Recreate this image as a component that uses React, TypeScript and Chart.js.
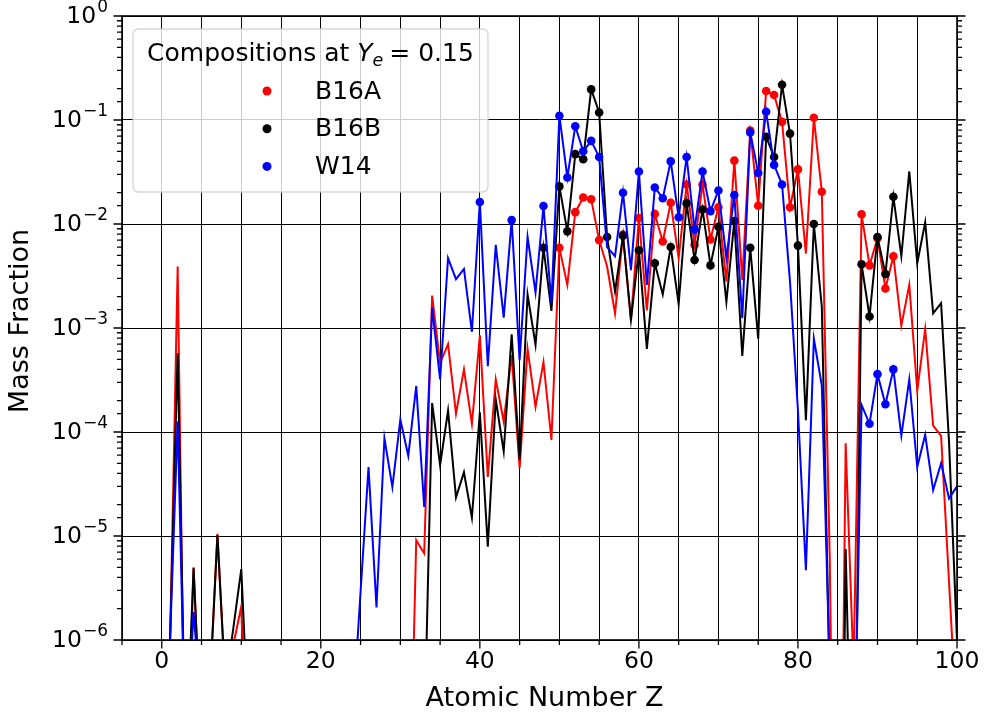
import React, { useEffect, useRef } from 'react';
import { Chart, registerables } from 'chart.js';

Chart.register(...registerables);

// Atomic numbers Z = 0 .. 100
const atomicNumbers: number[] = Array.from({ length: 101 }, (_, i) => i);

// Mass fractions (0 = absent)
const b16a: number[] = [
  1e-9, 6e-7, 3.9e-3, 1.3e-8, 5.0e-6, 1e-7, 3e-7, 1.05e-5, 3.5e-7, 9e-7,
  2.1e-6, 1e-8, 0, 0, 0, 0, 0, 0, 0, 0,
  0, 0, 0, 0, 0, 0, 0, 0, 0, 0,
  0, 6e-9, 9.1e-6, 6.8e-6, 2.05e-3, 4.6e-4, 7.0e-4, 1.5e-4, 4.0e-4, 1.2e-4,
  8.5e-4, 3.7e-5, 3.2e-4, 1.26e-4, 5.5e-4, 4.5e-5, 6.3e-4, 1.75e-4, 4.7e-4, 8.4e-5,
  5.9e-3, 2.6e-3, 1.3e-2, 1.8e-2, 1.73e-2, 7.0e-3, 3.9e-3, 1.38e-3, 7.9e-3, 1.2e-3,
  1.14e-2, 1.48e-3, 1.25e-2, 6.8e-3, 1.6e-2, 4.7e-3, 2.4e-2, 6.3e-3, 2.4e-2, 7.1e-3,
  1.45e-2, 2.8e-3, 4.07e-2, 2.9e-3, 7.9e-2, 1.5e-2, 0.19, 0.174, 9.6e-2, 1.45e-2,
  3.35e-2, 5.2e-3, 0.105, 2.04e-2, 6e-6, 1e-11, 7.8e-5, 5e-7, 1.24e-2, 4.0e-3,
  7.3e-3, 2.4e-3, 4.9e-3, 1.05e-3, 2.6e-3, 2.5e-4, 9.8e-4, 1.15e-4, 9.2e-5, 3.6e-6,
  1.4e-7,
];

const b16b: number[] = [
  1e-9, 8e-7, 5.7e-4, 6e-8, 4.9e-6, 1e-7, 2.9e-7, 1.02e-5, 3.7e-7, 1.3e-6,
  4.8e-6, 1e-7, 1e-9, 0, 0, 0, 0, 0, 0, 0,
  0, 0, 0, 0, 0, 0, 0, 0, 0, 0,
  0, 0, 0, 1e-7, 1.9e-4, 4.8e-5, 1.6e-4, 2.35e-5, 4.1e-5, 1.5e-5,
  1.55e-4, 7.9e-6, 2.05e-4, 6.5e-5, 8.7e-4, 5.4e-5, 2.1e-3, 6.9e-4, 5.9e-3, 1.46e-3,
  2.3e-2, 8.5e-3, 4.7e-2, 4.2e-2, 0.197, 0.118, 7.5e-3, 2.24e-3, 7.7e-3, 1.2e-3,
  5.6e-3, 6.3e-4, 4.2e-3, 2.1e-3, 6.0e-3, 1.7e-3, 1.58e-2, 4.5e-3, 1.38e-2, 4.0e-3,
  9.4e-3, 1.78e-3, 1.07e-2, 5.4e-4, 5.9e-3, 7.9e-4, 6.9e-2, 4.4e-2, 0.218, 7.4e-2,
  6.2e-3, 1.3e-4, 1.0e-2, 1.6e-3, 3.5e-7, 1e-12, 7.5e-6, 4e-9, 4.1e-3, 1.29e-3,
  7.5e-3, 3.3e-3, 1.83e-2, 4.9e-3, 3.2e-2, 4.2e-3, 1.04e-2, 1.38e-3, 1.73e-3, 8e-5,
  1e-6,
];

const w14: number[] = [
  1e-9, 8e-7, 1.26e-4, 8e-8, 1.86e-6, 2e-7, 1e-9, 0, 0, 0,
  0, 0, 0, 0, 0, 0, 0, 0, 0, 0,
  0, 0, 0, 0, 1.8e-7, 2.9e-6, 4.6e-5, 2.06e-6, 8.7e-5, 2.95e-5,
  1.32e-4, 5.9e-5, 2.77e-4, 1.9e-5, 1.57e-3, 3.2e-4, 4.7e-3, 2.95e-3, 3.7e-3, 9.2e-4,
  1.63e-2, 4.3e-4, 6.3e-3, 1.26e-3, 1.09e-2, 4.9e-4, 7.5e-3, 2.2e-3, 1.49e-2, 1.75e-3,
  0.11, 2.8e-2, 8.7e-2, 5.0e-2, 6.3e-2, 4.4e-2, 6.0e-3, 4.9e-3, 2.0e-2, 3.6e-3,
  3.2e-2, 2.6e-3, 2.24e-2, 1.77e-2, 4.0e-2, 1.16e-2, 4.4e-2, 8.9e-3, 3.2e-2, 1.33e-2,
  2.1e-2, 4.7e-3, 1.9e-2, 1.24e-3, 7.6e-2, 3.1e-2, 0.12, 3.7e-2, 2.4e-2, 2.8e-3,
  1.6e-4, 4.7e-6, 7.9e-4, 2.8e-4, 5e-7, 0, 0, 3e-8, 1.82e-4, 1.2e-4,
  3.6e-4, 1.85e-4, 4.0e-4, 9.2e-5, 3.2e-4, 4.6e-5, 9.4e-5, 2.76e-5, 5.0e-5, 2.3e-5,
  3.0e-5,
];

// Elements drawn with a dot marker, per series
const b16aMarkedZ: number[] = [50, 52, 53, 54, 55, 58, 60, 62, 63, 64, 66, 67, 68, 69, 70, 72, 74, 75, 76, 77, 78, 79, 80, 82, 83, 88, 89, 90, 91, 92];
const b16bMarkedZ: number[] = [48, 50, 51, 52, 53, 54, 55, 56, 58, 60, 62, 64, 66, 67, 68, 69, 70, 72, 74, 76, 77, 78, 79, 80, 82, 88, 89, 90, 91, 92];
const w14MarkedZ: number[] = [40, 44, 48, 50, 51, 52, 53, 54, 55, 58, 60, 62, 63, 64, 65, 66, 67, 68, 69, 70, 72, 74, 75, 76, 77, 78, 89, 90, 91, 92];

const seriesNames: string[] = ['B16A', 'B16B', 'W14'];
const seriesColors: string[] = ['#ff0000', '#000000', '#0000ff'];

const xTickLabels: number[] = [0, 20, 40, 60, 80, 100];
const yDecades: number[] = [1e-6, 1e-5, 1e-4, 1e-3, 1e-2, 1e-1, 1];
const yExponents: string[] = ['\u22126', '\u22125', '\u22124', '\u22123', '\u22122', '\u22121', '0'];

const xTitle = 'Atomic Number Z';
const yTitle = 'Mass Fraction';
const legendPrefix = 'Compositions at ';
const legendSymbol = 'Y';
const legendSub = 'e';
const legendSuffix = '= 0.15';

const FONT = '"DejaVu Sans", sans-serif';
const TINY = 1e-30;
const TICK_PX = 23.5;
const SUP_PX = 17;
const LABEL_PX = 27;
const LEGEND_PX = 25;
const MAJOR_LEN = 8.5;
const MINOR_LEN = 5;

const isDecade = (v: number) => {
  if (!(v > 0)) return false;
  const l = Math.log10(v);
  return Math.abs(l - Math.round(l)) < 1e-6;
};

const decorPlugin = {
  id: 'decor',
  afterDraw(chart: any) {
    const { ctx, chartArea: a, scales } = chart;
    const xs = scales.x;
    const ys = scales.y;
    ctx.save();
    // frame
    ctx.strokeStyle = '#000';
    ctx.lineWidth = 1.6;
    ctx.strokeRect(a.left, a.top, a.right - a.left, a.bottom - a.top);

    // x ticks
    ctx.lineWidth = 1.3;
    for (const t of xs.ticks) {
      const px = xs.getPixelForValue(t.value);
      const major = xTickLabels.includes(t.value);
      const len = major ? MAJOR_LEN : MINOR_LEN;
      ctx.beginPath();
      ctx.moveTo(px, a.bottom);
      ctx.lineTo(px, a.bottom + len);
      ctx.stroke();
    }
    // y ticks, left and right
    for (const t of ys.ticks) {
      const py = ys.getPixelForValue(t.value);
      const len = isDecade(t.value) ? MAJOR_LEN : MINOR_LEN;
      ctx.beginPath();
      ctx.moveTo(a.left, py);
      ctx.lineTo(a.left - len, py);
      ctx.moveTo(a.right, py);
      ctx.lineTo(a.right + len, py);
      ctx.stroke();
    }

    // x tick labels
    ctx.fillStyle = '#000';
    ctx.font = `${TICK_PX}px ${FONT}`;
    ctx.textAlign = 'center';
    ctx.textBaseline = 'top';
    for (const v of xTickLabels) {
      ctx.fillText(String(v), xs.getPixelForValue(v), a.bottom + 10);
    }

    // y tick labels 10^n
    ctx.textBaseline = 'middle';
    yDecades.forEach((v, i) => {
      const py = ys.getPixelForValue(v);
      const exp = yExponents[i];
      ctx.font = `${SUP_PX}px ${FONT}`;
      const ew = ctx.measureText(exp).width;
      const right = a.left - 14;
      ctx.textAlign = 'right';
      ctx.fillText(exp, right, py - 8);
      ctx.font = `${TICK_PX}px ${FONT}`;
      ctx.fillText('10', right - ew - 1, py + 1);
    });

    // axis titles
    ctx.font = `${LABEL_PX}px ${FONT}`;
    ctx.textAlign = 'center';
    ctx.textBaseline = 'middle';
    ctx.fillText(xTitle, (a.left + a.right) / 2 + 5, 699);
    ctx.save();
    ctx.translate(21, (a.top + a.bottom) / 2 - 7);
    ctx.rotate(-Math.PI / 2);
    ctx.fillText(yTitle, 0, 0);
    ctx.restore();

    // legend box
    const bx = a.left + 11, by = a.top + 13, bw = 355, bh = 163, r = 6;
    ctx.beginPath();
    ctx.moveTo(bx + r, by);
    ctx.lineTo(bx + bw - r, by);
    ctx.quadraticCurveTo(bx + bw, by, bx + bw, by + r);
    ctx.lineTo(bx + bw, by + bh - r);
    ctx.quadraticCurveTo(bx + bw, by + bh, bx + bw - r, by + bh);
    ctx.lineTo(bx + r, by + bh);
    ctx.quadraticCurveTo(bx, by + bh, bx, by + bh - r);
    ctx.lineTo(bx, by + r);
    ctx.quadraticCurveTo(bx, by, bx + r, by);
    ctx.closePath();
    ctx.fillStyle = 'rgba(255,255,255,0.8)';
    ctx.fill();
    ctx.strokeStyle = 'rgba(204,204,204,0.8)';
    ctx.lineWidth = 1.3;
    ctx.stroke();

    // legend title
    ctx.fillStyle = '#000';
    ctx.textAlign = 'left';
    ctx.textBaseline = 'alphabetic';
    ctx.font = `${LEGEND_PX}px ${FONT}`;
    const w1 = ctx.measureText(legendPrefix).width;
    ctx.font = `italic ${LEGEND_PX}px ${FONT}`;
    const w2 = ctx.measureText(legendSymbol).width;
    ctx.font = `italic ${LEGEND_PX * 0.7}px ${FONT}`;
    const w3 = ctx.measureText(legendSub).width;
    ctx.font = `${LEGEND_PX}px ${FONT}`;
    const w4 = ctx.measureText(legendSuffix).width;
    const gap = 6;
    const total = w1 + w2 + w3 + gap + w4;
    let tx = bx + bw / 2 - total / 2;
    const base = by + 32;
    ctx.font = `${LEGEND_PX}px ${FONT}`;
    ctx.fillText(legendPrefix, tx, base);
    tx += w1;
    ctx.font = `italic ${LEGEND_PX}px ${FONT}`;
    ctx.fillText(legendSymbol, tx, base);
    tx += w2;
    ctx.font = `italic ${LEGEND_PX * 0.7}px ${FONT}`;
    ctx.fillText(legendSub, tx, base + 5);
    tx += w3 + gap;
    ctx.font = `${LEGEND_PX}px ${FONT}`;
    ctx.fillText(legendSuffix, tx, base);

    // legend entries
    seriesNames.forEach((name, i) => {
      const cy = by + 62 + i * 37.7;
      ctx.fillStyle = seriesColors[i];
      ctx.beginPath();
      ctx.arc(bx + 134, cy, 4.5, 0, Math.PI * 2);
      ctx.fill();
      ctx.fillStyle = '#000';
      ctx.font = `${LEGEND_PX}px ${FONT}`;
      ctx.textBaseline = 'middle';
      ctx.fillText(name, bx + 182, cy + 1);
    });
    ctx.restore();
  },
};

export default function App() {
  const ref = useRef<HTMLCanvasElement | null>(null);

  useEffect(() => {
    document.body.style.margin = '0';
    const canvas = ref.current;
    if (!canvas) return;

    const lineDs = (label: string, vals: number[], color: string, order: number) => ({
      type: 'line' as const,
      label,
      data: vals.map((v, i) => ({ x: atomicNumbers[i], y: v > 0 ? v : TINY })),
      borderColor: color,
      backgroundColor: color,
      borderWidth: 2,
      pointRadius: 0,
      pointHoverRadius: 0,
      fill: false,
      tension: 0,
      order,
    });
    const dotDs = (label: string, vals: number[], zs: number[], color: string, order: number) => ({
      type: 'scatter' as const,
      label,
      data: zs.map((z) => ({ x: z, y: vals[atomicNumbers.indexOf(z)] })),
      borderColor: color,
      backgroundColor: color,
      borderWidth: 0,
      pointRadius: 4.3,
      pointHoverRadius: 4.3,
      showLine: false,
      order,
    });

    const chart = new Chart(canvas, {
      type: 'line',
      data: {
        datasets: [
          lineDs(seriesNames[0], b16a, seriesColors[0], 6),
          dotDs(seriesNames[0], b16a, b16aMarkedZ, seriesColors[0], 5),
          lineDs(seriesNames[1], b16b, seriesColors[1], 4),
          dotDs(seriesNames[1], b16b, b16bMarkedZ, seriesColors[1], 3),
          lineDs(seriesNames[2], w14, seriesColors[2], 2),
          dotDs(seriesNames[2], w14, w14MarkedZ, seriesColors[2], 1),
        ] as any,
      },
      options: {
        responsive: false,
        animation: false,
        devicePixelRatio: 1,
        layout: { padding: { top: 16, right: 27, left: 0, bottom: 0 } },
        plugins: { legend: { display: false }, tooltip: { enabled: false } },
        events: [],
        scales: {
          x: {
            type: 'linear',
            min: -5,
            max: 100,
            ticks: { stepSize: 5, display: false, autoSkip: false },
            grid: { color: '#000', lineWidth: 1, drawTicks: false },
            border: { display: false },
            afterFit: (s: any) => { s.height = 78; },
          },
          y: {
            type: 'logarithmic',
            min: 1e-6,
            max: 1,
            ticks: { display: false, autoSkip: false },
            grid: {
              color: (c: any) => (c.tick && isDecade(c.tick.value) ? '#000' : 'rgba(0,0,0,0)'),
              lineWidth: 1,
              drawTicks: false,
            },
            border: { display: false },
            afterFit: (s: any) => { s.width = 122; },
          },
        },
      } as any,
      plugins: [decorPlugin],
    });
    return () => chart.destroy();
  }, []);

  return <canvas ref={ref} width={984} height={718} style={{ display: 'block' }} />;
}
